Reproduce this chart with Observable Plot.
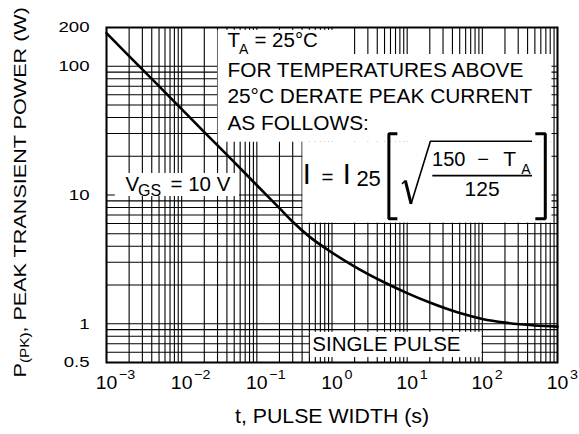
<!DOCTYPE html>
<html>
<head>
<meta charset="utf-8">
<script src="https://cdn.jsdelivr.net/npm/d3@7"></script>
<script src="https://cdn.jsdelivr.net/npm/@observablehq/plot@0.6"></script>
<style>
  html, body { margin: 0; padding: 0; background: #fff; }
  svg { display: block; }
</style>
</head>
<body>
<div id="chart"></div>
<script>
// ---------------- data ----------------
const pulseWidth = [0.001, 0.002, 0.005, 0.01, 0.02, 0.05, 0.1, 0.2, 0.3, 0.5, 1, 2, 5, 10, 20, 50, 100, 200, 500, 1000];
const peakPower  = [181, 120, 70, 46.5, 30.8, 18.0, 11.9, 7.9, 6.2, 4.75, 3.57, 2.78, 2.09, 1.73, 1.46, 1.21, 1.09, 1.02, 0.97, 0.95];

const xTickValues    = [1e-3, 1e-2, 1e-1, 1, 10, 100, 1000];
const xTickBase      = ["10", "10", "10", "10", "10", "10", "10"];
const xTickExponents = ["\u22123", "\u22122", "\u22121", "0", "1", "2", "3"];
const yTickValues    = [0.5, 1, 10, 100, 200];
const yTickLabels    = ["0.5", "1", "10", "100", "200"];

const gridMultipliers = [1, 2, 3, 4, 5, 6, 7, 8, 9];
const xGridDecades    = [1e-3, 1e-2, 1e-1, 1, 10, 100];
const xGridEnd        = [1000];
const yGridValues     = [0.5, 0.6, 0.7, 0.8, 0.9, 1, 2, 3, 4, 5, 6, 7, 8, 9, 10, 20, 30, 40, 50, 60, 70, 80, 90, 100, 200];

const xTitle = "t, PULSE WIDTH (s)";
const yTitleMain = "P";
const yTitleSub = "(PK)";
const yTitleRest = ", PEAK TRANSIENT POWER (W)";

// ---------------- annotations (data coordinates) ----------------
const whiteBoxes = [
  {x1: 0.0305, x2: 1.3,    y1: 123.4, y2: 190},
  {x1: 0.0305, x2: 845,    y1: 25.7,  y2: 123.4},
  {x1: 0.41,   x2: 845,    y1: 6.05,  y2: 25.7},
  {x1: 0.00131,x2: 0.0588, y1: 9.73,  y2: 14.7},
  {x1: 0.516,  x2: 99,     y1: 0.546, y2: 0.858}
];

const notes = [
  // T_A = 25°C
  {x: 0.0406, y: 140.6, text: "T", size: 20.5},
  {x: 0.0578, y: 125.6, text: "A", size: 14},
  {x: 0.0929, y: 140.6, text: "= 25°C", size: 20.5},
  // derating text
  {x: 0.0406, y: 82.2, text: "FOR TEMPERATURES ABOVE", size: 19.5, stretch: 1.07},
  {x: 0.0406, y: 51.6, text: "25°C DERATE PEAK CURRENT", size: 19.5, stretch: 1.07},
  {x: 0.0406, y: 31.7, text: "AS FOLLOWS:", size: 19.5, stretch: 1.07},
  // formula
  {x: 0.407,  y: 12.2,  text: "I", size: 29},
  {x: 0.723,  y: 12.2,  text: "=", size: 20.5},
  {x: 1.387,  y: 12.2,  text: "I", size: 29},
  {x: 2.11,   y: 11.84, text: "25", size: 22},
  {x: 21.43,  y: 16.93, text: "150", size: 20},
  {x: 85.9,   y: 16.93, text: "\u2212", size: 20},
  {x: 190.2,  y: 16.93, text: "T", size: 21},
  {x: 330,    y: 14.67, text: "A", size: 14},
  {x: 99.1,   y: 9.9,   text: "125", size: 21, anchor: "middle"},
  // V_GS = 10 V
  {x: 0.00179, y: 10.82, text: "V", size: 20.5},
  {x: 0.002624,y: 9.9,   text: "GS", size: 16},
  {x: 0.0071,  y: 10.82, text: "= 10 V", size: 20.5},
  // single pulse
  {x: 0.548, y: 0.618, text: "SINGLE PULSE", size: 20.5}
];

const leftBracket  = [[7.41, 29.85], [5.71, 29.85], [5.71, 6.525], [7.41, 6.525]];
const rightBracket = [[507, 29.85], [688, 29.85], [688, 6.525], [507, 6.525]];
const radicalThin  = [[8.55, 12.2], [9.47, 12.94]];
const radicalDown  = [[9.47, 12.94], [11.27, 8.53]];
const radicalUp    = [[11.27, 8.53], [20.37, 26.16], [458, 26.16]];
const fractionBar  = [[21.6, 14.15], [458, 14.15]];

// ---------------- build ----------------
const xGrid = xGridDecades.flatMap(d => gridMultipliers.map(m => +(d * m).toPrecision(6))).concat(xGridEnd);
const curveData = pulseWidth.map((t, i) => ({t, p: peakPower[i]}));
const font = "'Liberation Sans', Arial, Helvetica, sans-serif";

const seg = (pts, w) => Plot.line(pts, {x: d => d[0], y: d => d[1], stroke: "black", strokeWidth: w,
  strokeLinejoin: "miter", strokeLinecap: "butt", curve: "linear"});

const noteMarks = notes.map(n => Plot.text([n], {
  x: "x", y: "y", text: "text", fontSize: n.size, fontFamily: font,
  textAnchor: n.anchor || "start", lineAnchor: "bottom", fill: "black",
  ariaDescription: n.stretch ? `stretch:${n.stretch}` : undefined
}));

const chart = Plot.plot({
  width: 579,
  height: 434,
  marginLeft: 106,
  marginRight: 22,
  marginTop: 27,
  marginBottom: 72,
  style: {fontFamily: font, background: "white", color: "black"},
  x: {type: "log", domain: [1e-3, 1e3], axis: null},
  y: {type: "log", domain: [0.5, 200], axis: null},
  marks: [
    Plot.ruleX(xGrid, {x: d => d, stroke: "black", strokeWidth: 1.1}),
    Plot.ruleY(yGridValues, {y: d => d, stroke: "black", strokeWidth: 1.1}),
    Plot.line(curveData, {x: "t", y: "p", stroke: "black", strokeWidth: 2.6, curve: "monotone-x"}),
    Plot.rect(whiteBoxes, {x1: "x1", x2: "x2", y1: "y1", y2: "y2", fill: "white"}),
    ...noteMarks,
    seg(leftBracket, 3),
    seg(rightBracket, 3),
    seg(radicalThin, 1.5),
    seg(radicalDown, 3),
    seg(radicalUp, 1.6),
    seg(fractionBar, 1.6),
    // y tick labels
    Plot.text(yTickValues, {y: d => d, text: (d, i) => yTickLabels[i], frameAnchor: "left", dx: -17,
      textAnchor: "end", fontSize: 15.5, fontFamily: font, fill: "black", ariaDescription: "stretch:1.2"}),
    // x tick labels
    Plot.text(xTickValues, {x: d => d, text: (d, i) => xTickBase[i], frameAnchor: "bottom", dy: 26,
      lineAnchor: "bottom", fontSize: 18.5, fontFamily: font, fill: "black", ariaDescription: "stretch:1.05"}),
    Plot.text(xTickValues, {x: d => d, text: (d, i) => xTickExponents[i], frameAnchor: "bottom", dx: 12.5, dy: 16.5,
      lineAnchor: "bottom", textAnchor: "start", fontSize: 13, fontFamily: font, fill: "black", ariaDescription: "stretch:1.1"}),
    // axis titles
    Plot.text([xTitle], {text: d => d, frameAnchor: "bottom", dy: 60.7, lineAnchor: "bottom",
      fontSize: 20, fontFamily: font, fill: "black", ariaDescription: "stretch:1.065"}),
    Plot.text([yTitleMain], {text: d => d, frameAnchor: "left", dx: -81, dy: 182.5, rotate: -90,
      textAnchor: "start", lineAnchor: "bottom", fontSize: 17, fontFamily: font, fill: "black", ariaDescription: "stretch:1.27"}),
    Plot.text([yTitleSub], {text: d => d, frameAnchor: "left", dx: -77.5, dy: 168, rotate: -90,
      textAnchor: "start", lineAnchor: "bottom", fontSize: 12, fontFamily: font, fill: "black", ariaDescription: "stretch:1.27"}),
    Plot.text([yTitleRest], {text: d => d, frameAnchor: "left", dx: -81, dy: 137.6, rotate: -90,
      textAnchor: "start", lineAnchor: "bottom", fontSize: 17, fontFamily: font, fill: "black", ariaDescription: "stretch:1.27"}),
    Plot.frame({stroke: "black", strokeWidth: 2})
  ]
});

document.getElementById("chart").appendChild(chart);

// widen glyphs to match the reference's wide sans-serif lettering
chart.querySelectorAll('[aria-description^="stretch:"]').forEach(g => {
  const f = +g.getAttribute("aria-description").split(":")[1];
  g.querySelectorAll("text").forEach(t => {
    const L = t.getComputedTextLength();
    if (L > 0 && f > 0) {
      t.setAttribute("textLength", (L * f).toFixed(2));
      t.setAttribute("lengthAdjust", "spacingAndGlyphs");
    }
  });
});
</script>
</body>
</html>
